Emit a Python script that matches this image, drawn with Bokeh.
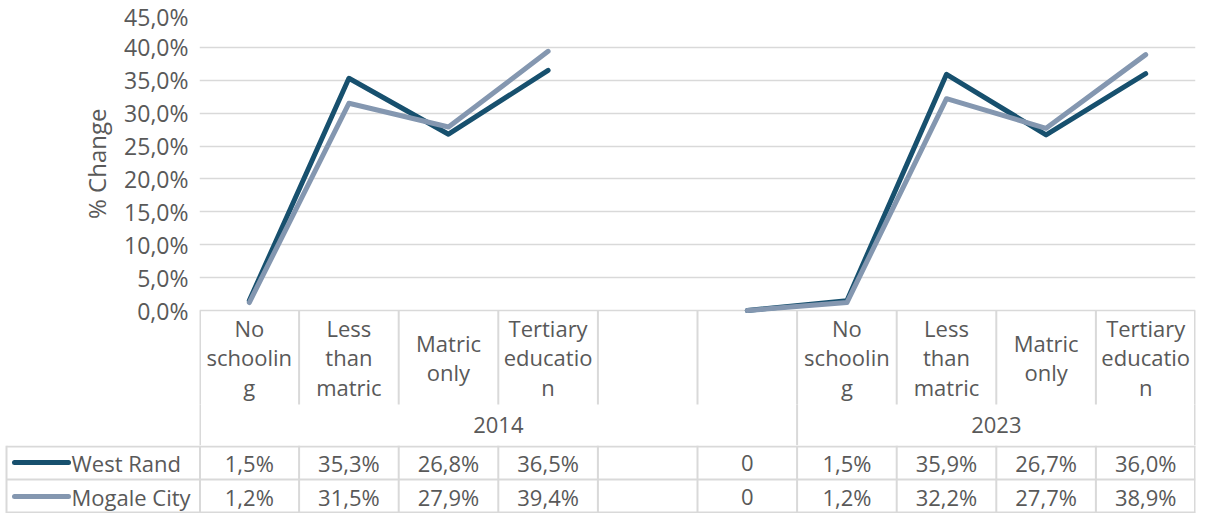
import math
from bokeh.plotting import figure
from bokeh.layouts import column
from bokeh.models import Range1d, FixedTicker, Title
from bokeh.embed import file_html
from bokeh.resources import INLINE
from bokeh.core.properties import value

# ---------------- data ----------------
categories = ["No schooling", "Less than matric", "Matric only", "Tertiary education"]
category_labels = ["No\nschoolin\ng", "Less\nthan\nmatric", "Matric\nonly", "Tertiary\neducatio\nn"]
years = ["2014", "2023"]
west_rand_2014 = [1.5, 35.3, 26.8, 36.5]
west_rand_2023 = [1.5, 35.9, 26.7, 36.0]
mogale_city_2014 = [1.2, 31.5, 27.9, 39.4]
mogale_city_2023 = [1.2, 32.2, 27.7, 38.9]
# the 2014 block of the source sheet has two extra columns: one empty, one holding 0
west_rand_2014_extra = [None, 0.0]
mogale_city_2014_extra = [None, 0.0]
series_names = ["West Rand", "Mogale City"]
series_colors = ["#17506e", "#8497b0"]
y_ticks = [0, 5, 10, 15, 20, 25, 30, 35, 40, 45]
y_tick_labels = ["0,0%", "5,0%", "10,0%", "15,0%", "20,0%", "25,0%", "30,0%", "35,0%", "40,0%", "45,0%"]
y_axis_title = "% Change"

slot_labels = category_labels + ["", ""] + category_labels
year_spans = [len(categories) + 2, len(categories)]
series_values = [
    west_rand_2014 + west_rand_2014_extra + west_rand_2023,
    mogale_city_2014 + mogale_city_2014_extra + mogale_city_2023,
]

def fmt(v):
    if v is None:
        return ""
    if v == 0:
        return "0"
    return f"{v:.1f}%".replace(".", ",")

# ---------------- layout constants ----------------
FONT = "Open Sans"
TXT = "#595959"
LINE = "#d9d9d9"
W = 1196
LEFT = 199
RIGHT = 1
NSLOT = len(slot_labels)
COLW = (W - LEFT - RIGHT) / NSLOT
TOP = 14
PLOT_H = 296
HDR_H = 94
YEAR_H = 41
ROW_H = 34
A_H = TOP + PLOT_H + HDR_H + YEAR_H
B_H = ROW_H * len(series_names)

ymax = y_ticks[-1]
ppu = PLOT_H / ymax
ymin = -(HDR_H + YEAR_H) / ppu

centers = [i + 0.5 for i in range(NSLOT)]

def edge(i):
    if i <= 0:
        return 0.5 / COLW
    if i >= NSLOT:
        return NSLOT - 0.5 / COLW
    return i

# ---------------- chart + header rows ----------------
p = figure(width=W, height=A_H, x_range=Range1d(0, NSLOT), y_range=Range1d(ymin, ymax),
           output_backend="svg", toolbar_location=None, x_axis_location=None,
           min_border_left=LEFT, min_border_right=RIGHT, min_border_top=TOP,
           min_border_bottom=0, outline_line_color=None, frame_align=False)
p.extra_y_ranges = {"px": Range1d(0, HDR_H + YEAR_H + PLOT_H)}

p.yaxis.ticker = FixedTicker(ticks=y_ticks)
p.yaxis.major_label_overrides = dict(zip(y_ticks, y_tick_labels))
p.yaxis.major_label_text_font = FONT
p.yaxis.major_label_text_font_size = "23px"
p.yaxis.major_label_text_color = TXT
p.yaxis.axis_line_color = None
p.yaxis.major_tick_line_color = None
p.yaxis.minor_tick_line_color = None
p.yaxis.major_tick_out = 0
p.yaxis.major_tick_in = 0
p.yaxis.minor_tick_out = 0
p.yaxis.minor_tick_in = 0
p.yaxis.major_label_standoff = 11

p.ygrid.ticker = FixedTicker(ticks=y_ticks)
p.ygrid.grid_line_color = LINE
p.ygrid.grid_line_width = 1.5
p.xgrid.visible = False

p.add_layout(Title(text=y_axis_title, align="right", offset=94, text_font=FONT,
                   text_font_size="24px", text_font_style="normal", text_color=TXT,
                   standoff=17), "left")

# lines
for vals, col in zip(series_values, series_colors):
    ys = [float("nan") if v is None else v for v in vals]
    p.line(centers, ys, line_color=col, line_width=5, line_join="round", line_cap="round")

# header table lines
x0s, y0s, x1s, y1s = [], [], [], []
for i in range(NSLOT + 1):
    xx = edge(i)
    x0s.append(xx); x1s.append(xx); y0s.append(YEAR_H); y1s.append(YEAR_H + HDR_H)
bounds = [0]
for s in year_spans:
    bounds.append(bounds[-1] + s)
for b in bounds:
    xx = edge(b)
    x0s.append(xx); x1s.append(xx); y0s.append(0); y1s.append(YEAR_H)
p.segment(x0s, y0s, x1s, y1s, y_range_name="px", line_color=LINE, line_width=2)

p.text(centers, [YEAR_H + HDR_H / 2] * NSLOT, text=slot_labels, y_range_name="px",
       text_align="center", text_baseline="middle", text_font=value(FONT),
       text_font_size="22px", text_color=TXT, text_line_height=0.99)

year_x = [(bounds[k] + bounds[k + 1]) / 2 for k in range(len(years))]
p.text(year_x, [YEAR_H / 2] * len(years), text=years, y_range_name="px",
       text_align="center", text_baseline="middle", text_font=value(FONT),
       text_font_size="22px", text_color=TXT)

# ---------------- data table rows ----------------
xl = -LEFT / COLW
q = figure(width=W, height=B_H, x_range=Range1d(xl, NSLOT), y_range=Range1d(0, B_H),
           output_backend="svg", toolbar_location=None, x_axis_location=None,
           y_axis_location=None, min_border_left=0, min_border_right=RIGHT,
           min_border_top=0, min_border_bottom=0, outline_line_color=None,
           frame_align=False)
q.grid.visible = False

def wx(xfig):
    return (xfig - LEFT) / COLW

hx0, hy, hx1 = [], [], []
for r in range(len(series_names) + 1):
    yy = r * ROW_H
    yy = min(max(yy, 1), B_H - 1)
    hx0.append(wx(6)); hx1.append(NSLOT); hy.append(yy)
q.segment(hx0, hy, hx1, hy, line_color=LINE, line_width=2)
vx = [wx(6)] + [edge(i) for i in range(NSLOT + 1)]
q.segment(vx, [0] * len(vx), vx, [B_H] * len(vx), line_color=LINE, line_width=2)

for r, (name, col, vals) in enumerate(zip(series_names, series_colors, series_values)):
    yc = B_H - (r + 0.5) * ROW_H
    q.line([wx(14), wx(68)], [yc, yc], line_color=col, line_width=5, line_cap="round")
    q.text([wx(71)], [yc], text=[name], text_align="left", text_baseline="middle",
           text_font=value(FONT), text_font_size="22px", text_color=TXT)
    q.text(centers, [yc] * NSLOT, text=[fmt(v) for v in vals], text_align="center",
           text_baseline="middle", text_font=value(FONT), text_font_size="22px",
           text_color=TXT)

layout = column(p, q, spacing=0)
open("out.html", "w").write(file_html(layout, INLINE))
